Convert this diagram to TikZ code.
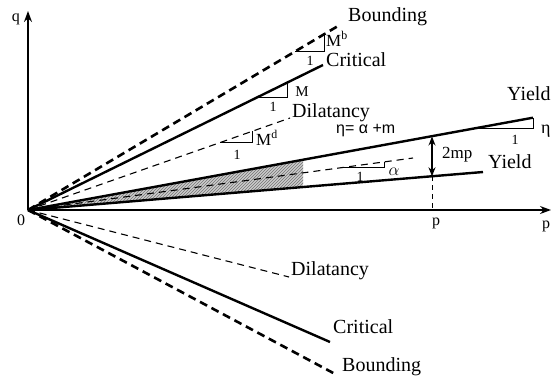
\documentclass[tikz,border=0pt]{standalone}
\usepackage{fontspec}
\setmainfont{Liberation Serif}
\newfontfamily\sansf{Liberation Sans}
\usetikzlibrary{arrows.meta,patterns}
\begin{document}
\begin{tikzpicture}[x=1pt,y=-1pt,
  thickline/.style={line width=2.4pt},
  thickdash/.style={line width=2.6pt, dash pattern=on 8pt off 5pt},
  thindash/.style={line width=1.1pt, dash pattern=on 7pt off 5pt},
  axisline/.style={line width=1.3pt, -{Stealth[length=11pt,width=8pt]}},
  tri/.style={line width=1pt},
  lbl/.style={font=\fontsize{20}{24}\selectfont, inner sep=0pt, anchor=base west},
  mlbl/.style={font=\fontsize{17}{20}\selectfont, inner sep=0pt, anchor=base west},
  one/.style={font=\fontsize{14}{16}\selectfont, inner sep=0pt},
  axlbl/.style={font=\fontsize{16}{19}\selectfont, inner sep=0pt},
]
\useasboundingbox (0,0) rectangle (552,381);
% key points
\coordinate (O) at (28,210);
\coordinate (qtop) at (28,11);
\coordinate (pend) at (551,210);
\coordinate (UB) at (338,26);
\coordinate (UC) at (323,65);
\coordinate (UD) at (290,118);
\coordinate (UY) at (533,117.7);
\coordinate (LY) at (483,172);
\coordinate (MD) at (413,158);
\coordinate (LD) at (289,277);
\coordinate (LC) at (330,342);
\coordinate (LB) at (337,375);
% shaded zone
\fill[gray!40] (O) -- (303,159.9) -- (303,187) -- cycle;
\fill[pattern=north east lines, pattern color=gray!90!black] (O) -- (303,159.9) -- (303,187) -- cycle;
% axes
\draw[axisline] (O) -- (qtop);
\draw[axisline] (O) -- (pend);
% upper lines
\draw[thickdash] (O) -- (UB);
\draw[thickline] (O) -- (UC);
\draw[thindash] (O) -- (UD);
\draw[thickline] (O) -- (UY);
\draw[thickline] (O) -- (LY);
\draw[thindash] (O) -- (MD);
% lower lines
\draw[thindash] (O) -- (LD);
\draw[thickline] (O) -- (LC);
\draw[thickdash] (O) -- (LB);
% slope triangles
\draw[tri] (295,51.5) -- (324,51.5) -- (324,34.3);
\draw[tri] (257,97.4) -- (287,97.4) -- (287,82.7);
\draw[tri] (220,142.6) -- (252,142.6) -- (252,131.4);
\draw[tri] (478,128) -- (533,128) -- (UY);
\draw[tri] (343,167.4) -- (384,167.4) -- (384,162);
% 2mp arrow and p tick
\coordinate (ta) at (432,136.5);
\coordinate (tb) at (432,176.3);
\coordinate (tp) at (432,210);
\draw[line width=1.2pt, {Stealth[length=9pt,width=7pt]}-{Stealth[length=9pt,width=7pt]}] (ta) -- (tb);
\draw[line width=1pt, dash pattern=on 5pt off 4pt] (tb) -- (tp);
% labels
\node[lbl] (lbB) at (348,21) {Bounding};
\node[lbl] (lbC) at (326,66) {Critical};
\node[lbl] (lbD) at (292,117) {Dilatancy};
\node[font=\sansf\fontsize{16}{19}\selectfont, inner sep=0pt, anchor=base west] (lbeta) at (336,133) {η= α +m};
\node[lbl] (lbY1) at (507,100) {Yield};
\node[lbl] (lbY2) at (488,168) {Yield};
\node[mlbl] (lb2mp) at (442,158) {2mp};
\node[font=\fontsize{18}{21}\selectfont, inner sep=0pt, anchor=base west] (lbeta2) at (541,133) {η};
\node[one] (o1) at (515,140) {1};
\node[mlbl] (lMb) at (326,46) {M$^{\mathrm{b}}$};
\node[one] (o2) at (310,61) {1};
\node[font=\fontsize{15}{18}\selectfont, inner sep=0pt] (lM) at (302,92) {M};
\node[one] (o3) at (273,107) {1};
\node[mlbl] (lMd) at (256,145) {M$^{\mathrm{d}}$};
\node[one] (o4) at (237,155) {1};
\node[one] (o5) at (360,177) {1};
\node[font=\fontsize{17}{20}\selectfont, inner sep=0pt] (lal) at (394,172) {$\alpha$};
\node[lbl] (lbD2) at (291,275) {Dilatancy};
\node[lbl] (lbC2) at (333,333) {Critical};
\node[lbl] (lbB2) at (342,371) {Bounding};
\node[axlbl] (lq) at (16,19) {q};
\node[axlbl] (l0) at (21,220) {0};
\node[axlbl] (lp1) at (436,223) {p};
\node[axlbl] (lp2) at (546,226) {p};
\end{tikzpicture}
\end{document}
